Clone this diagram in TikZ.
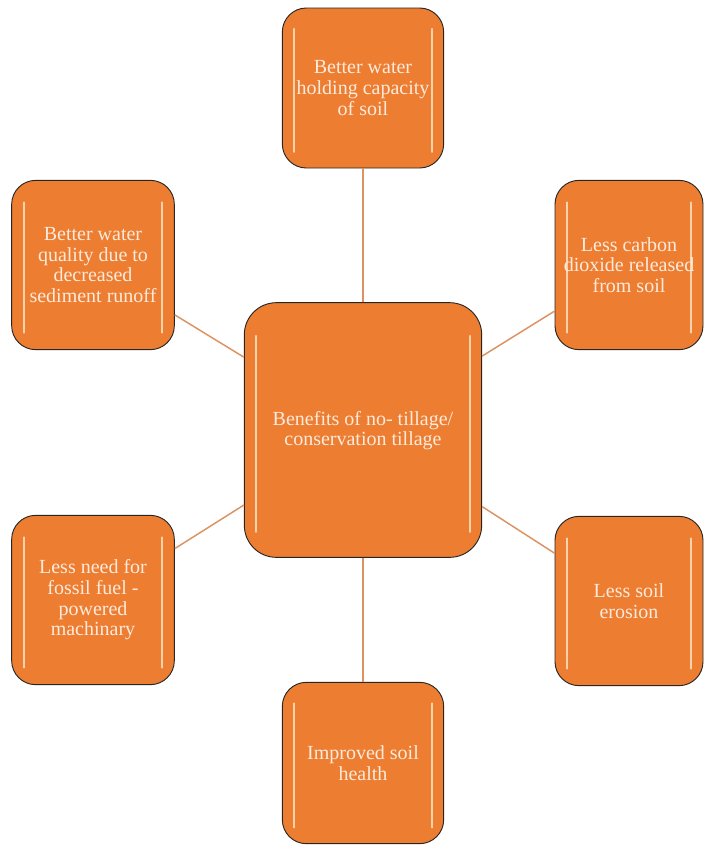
\documentclass[tikz,border=0pt]{standalone}
\usepackage{fontspec}
\setmainfont{Liberation Serif}
\usetikzlibrary{calc}
\definecolor{tillorange}{HTML}{ED7D31}
\definecolor{tillline}{HTML}{DC9261}
\definecolor{tilltext}{HTML}{FCEBDD}
\definecolor{tillshine}{HTML}{F9D2AC}

\begin{document}
\begin{tikzpicture}[x=0.75pt,y=-0.75pt,
  benefit/.style={draw=black!85, line width=0.7pt, fill=tillorange,
    rounded corners=18pt, text=tilltext, align=center,
    font=\fontsize{15}{15.5}\selectfont, inner sep=1pt,
    minimum width=122pt, minimum height=127pt,
    path picture={
      \draw[tillshine, line width=1.4pt, line cap=round]
        ($(path picture bounding box.north west)!0.13!(path picture bounding box.south west)+(9pt,0)$)
        -- ($(path picture bounding box.north west)!0.9!(path picture bounding box.south west)+(9pt,0)$);
      \draw[tillshine, line width=1.4pt, line cap=round]
        ($(path picture bounding box.north east)!0.13!(path picture bounding box.south east)+(-9pt,0)$)
        -- ($(path picture bounding box.north east)!0.9!(path picture bounding box.south east)+(-9pt,0)$);
    }},
  link/.style={draw=tillline, line width=1.1pt}]
\useasboundingbox (0,0) rectangle (705,854);

% hub
\node[benefit, minimum width=178pt, minimum height=191pt, rounded corners=24pt] (hub) at (363,430)
  {\\[-4pt]Benefits of no- tillage/\\conservation tillage};

% benefits around the hub
\node[benefit, minimum width=121pt, minimum height=120pt] (water) at (363,88)
  {Better water\\holding capacity\\of soil};
\node[benefit] (quality) at (93,265)
  {Better water\\quality due to\\decreased\\sediment runoff};
\node[benefit, minimum width=111pt] (carbon) at (629,265)
  {Less carbon\\dioxide released\\from soil};
\node[benefit] (fuel) at (93,600)
  {Less need for\\fossil fuel -\\powered\\machinary};
\node[benefit, minimum width=111pt] (erosion) at (629,601)
  {Less soil\\erosion};
\node[benefit, minimum width=121pt, minimum height=121pt] (health) at (363,763)
  {Improved soil\\health};

% spokes
\draw[link] (hub) -- (water);
\draw[link] (hub) -- (quality);
\draw[link] (hub) -- (carbon);
\draw[link] (hub) -- (fuel);
\draw[link] (hub) -- (erosion);
\draw[link] (hub) -- (health);
\end{tikzpicture}
\end{document}
